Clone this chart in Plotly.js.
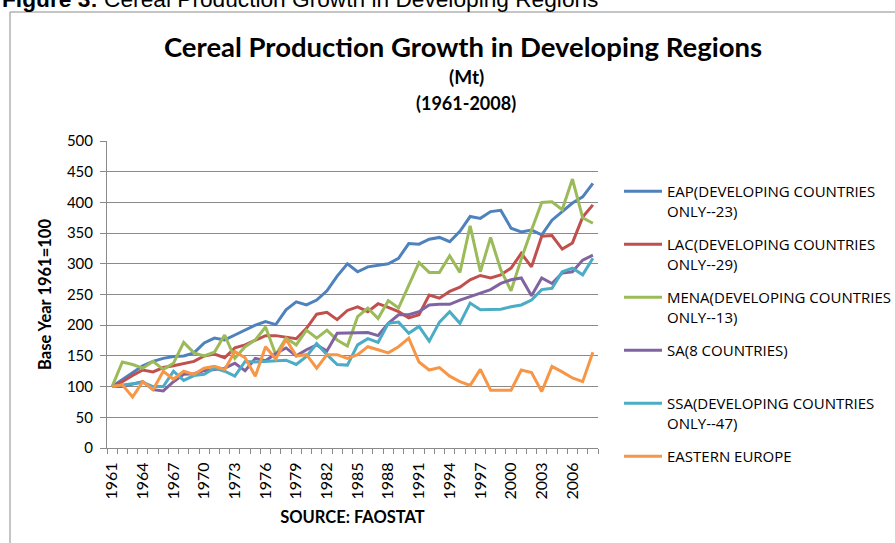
<!DOCTYPE html>
<html><head><meta charset="utf-8">
<script src="https://cdn.plot.ly/plotly-3.0.1.min.js"></script>
<style>html,body{margin:0;padding:0;background:#fff;overflow:hidden;} #chart{width:895px;height:543px;}</style>
</head><body><div id="chart"></div>
<script>
const years = [1961,1962,1963,1964,1965,1966,1967,1968,1969,1970,1971,1972,1973,1974,1975,1976,1977,1978,1979,1980,1981,1982,1983,1984,1985,1986,1987,1988,1989,1990,1991,1992,1993,1994,1995,1996,1997,1998,1999,2000,2001,2002,2003,2004,2005,2006,2007,2008];

const eap  = [100,111,122,134,141,146,149,150,155,171,179,176,184,192,200,206,201,225,238,233,241,256,280,300,287,295,297,300,309,333,332,340,343,336,353,377,374,385,387,358,352,355,347,371,385,399,409,431];
const lac  = [100,108,118,127,124,131,134,137,141,150,153,147,163,168,176,183,183,181,178,195,218,221,209,224,230,222,235,229,222,212,217,249,244,255,262,274,281,277,282,293,317,295,345,346,324,334,376,396];
const mena = [100,140,136,130,141,128,138,172,155,150,156,184,146,165,176,197,152,179,168,192,179,192,176,166,214,228,211,240,228,265,302,286,286,313,286,362,287,343,290,256,308,355,400,401,388,438,375,366];
const sa   = [100,100,104,108,95,93,108,120,121,126,128,130,138,126,146,142,154,163,150,160,168,158,187,187,187,188,183,203,217,217,222,233,234,234,241,247,252,258,268,274,277,248,277,268,285,287,306,314];
const ssa  = [100,102,105,107,100,100,125,110,118,120,130,125,117,141,140,141,143,143,136,149,170,152,136,135,168,178,172,203,205,187,198,174,205,222,203,236,225,225,226,230,233,241,258,260,287,293,282,309];
const eeu  = [100,103,83,108,95,125,112,125,120,130,133,128,157,147,117,165,145,177,150,152,130,152,152,146,152,165,160,155,165,179,140,127,131,117,108,102,128,94,94,94,127,123,92,133,124,114,108,156];

const seriesNames = [
  "EAP(DEVELOPING COUNTRIES<br>ONLY--23)",
  "LAC(DEVELOPING COUNTRIES<br>ONLY--29)",
  "MENA(DEVELOPING COUNTRIES<br>ONLY--13)",
  "SA(8 COUNTRIES)<br>&nbsp;",
  "SSA(DEVELOPING COUNTRIES<br>ONLY--47)",
  "EASTERN EUROPE"
];
const tickYears = [1961,1964,1967,1970,1973,1976,1979,1982,1985,1988,1991,1994,1997,2000,2003,2006];
const yTicks = [0,50,100,150,200,250,300,350,400,450,500];

const seriesValues = [eap, lac, mena, sa, ssa, eeu];
const seriesColors = ['#4F81BD','#C0504D','#9BBB59','#8064A2','#4BACC6','#F79646'];

const W = 895, H = 543;
const L = 107, R = 598, T = 141, B = 448;
const px = x => (x - L) / (R - L);
const py = y => (B - y) / (B - T);

const traces = seriesValues.map((vals, i) => ({
  type: 'scatter', mode: 'lines', x: years, y: vals, name: seriesNames[i],
  legendgroup: 'g' + i,
  line: {color: seriesColors[i], width: 3},
  hoverinfo: 'x+y'
}));

const FONT = 'Lato, "Open Sans", sans-serif';
const grid = '#8a8a8a';

const layout = {
  width: W, height: H,
  margin: {l: L, r: W - R, t: T, b: H - B, pad: 0},
  paper_bgcolor: '#fff', plot_bgcolor: '#fff',
  showlegend: true,
  title: {
    text: '<b>Cereal Production Growth in Developing Regions</b>',
    font: {family: FONT, size: 27.5, color: '#000'},
    x: 463 / W, xanchor: 'center', xref: 'container',
    y: 1 - 47 / H, yanchor: 'middle', yref: 'container'
  },
  xaxis: {
    range: [1960.5, 2008.5],
    tickmode: 'array', tickvals: tickYears, ticktext: tickYears.map(String),
    tickangle: -90, ticks: '', ticklabelstandoff: 7,
    tickfont: {family: FONT, size: 16, color: '#000'},
    showgrid: false, zeroline: false,
    showline: true, linecolor: grid, linewidth: 1,
    minor: {tick0: 1960.5, dtick: 1, ticks: 'outside', ticklen: 5, tickcolor: grid, showgrid: false},
    title: {text: '<b>SOURCE: FAOSTAT</b>', font: {family: FONT, size: 16.5, color: '#000'}, standoff: 12},
    automargin: false, fixedrange: true
  },
  yaxis: {
    range: [0, 500], tickmode: 'array', tickvals: yTicks,
    ticks: 'outside', ticklen: 6, tickcolor: grid, ticklabelstandoff: 4,
    tickfont: {family: FONT, size: 15, color: '#000'},
    showgrid: true, gridcolor: grid, gridwidth: 1,
    zeroline: false, showline: true, linecolor: grid, linewidth: 1,
    title: {text: '<b>Base Year 1961=100</b>', font: {family: FONT, size: 16.5, color: '#000'}, standoff: 11},
    automargin: false, fixedrange: true
  },
  legend: {
    xref: 'container', yref: 'container',
    x: 619 / W, xanchor: 'left', y: 1 - 175 / H, yanchor: 'top',
    maxheight: 420,
    font: {family: '"Open Sans", sans-serif', size: 15, color: '#000'},
    valign: 'top', traceorder: 'grouped', tracegroupgap: 11,
    itemwidth: 38, bgcolor: 'rgba(0,0,0,0)', borderwidth: 0
  },
  annotations: [
    {text: '<b>Figure 3:</b> Cereal Production Growth in Developing Regions',
     xref: 'paper', yref: 'paper', x: px(0), y: py(-1), xanchor: 'left', yanchor: 'middle',
     showarrow: false, font: {family: '"Liberation Sans", Arial, sans-serif', size: 22.7, color: '#000'}},
    {text: '<b>(Mt)</b>', xref: 'paper', yref: 'paper', x: px(466), y: py(77),
     xanchor: 'center', yanchor: 'middle', showarrow: false,
     font: {family: FONT, size: 19, color: '#000'}},
    {text: '<b>(1961-2008)</b>', xref: 'paper', yref: 'paper', x: px(466), y: py(103),
     xanchor: 'center', yanchor: 'middle', showarrow: false,
     font: {family: FONT, size: 18, color: '#000'}}
  ],
  shapes: [
    {type: 'line', xref: 'paper', yref: 'paper', x0: px(10), x1: px(900), y0: py(12), y1: py(12),
     line: {color: '#8c8c8c', width: 1}},
    {type: 'line', xref: 'paper', yref: 'paper', x0: px(10), x1: px(10), y0: py(12), y1: py(560),
     line: {color: '#8c8c8c', width: 1}}
  ]
};

Plotly.newPlot('chart', traces, layout, {displayModeBar: false, staticPlot: true});
</script>
</body></html>
